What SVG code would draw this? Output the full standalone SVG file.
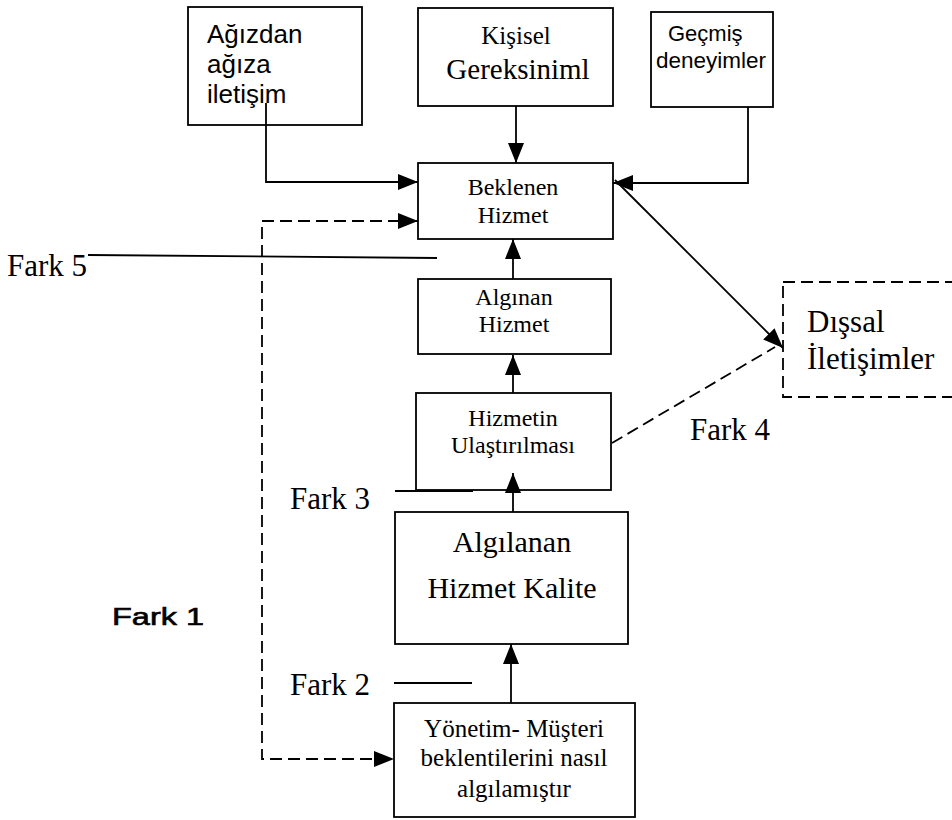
<svg xmlns="http://www.w3.org/2000/svg" width="952" height="820" viewBox="0 0 952 820">
<style>
.box{fill:#fff;stroke:#000;stroke-width:1.8}
.dbox{fill:#fff;stroke:#000;stroke-width:1.8;stroke-dasharray:12 6}
.c{fill:none;stroke:#000;stroke-width:1.8}
.d{fill:none;stroke:#000;stroke-width:1.8;stroke-dasharray:12 6}
.s{font-family:"Liberation Serif","Times New Roman",serif;fill:#000}
.a{font-family:"Liberation Sans",Arial,sans-serif;fill:#000}
.m{text-anchor:middle}
</style>
<defs>
<marker id="ah" viewBox="0 0 20 16" refX="20" refY="8" markerWidth="20" markerHeight="16" markerUnits="userSpaceOnUse" orient="auto-start-reverse">
<path d="M0,0 L20,8 L0,16 Z" fill="#000"/>
</marker>
</defs>
<rect width="952" height="820" fill="#fff"/>

<g id="agizdan">
<rect class="box" x="188" y="7" width="174" height="118"/>
<text class="a" x="207" y="43" font-size="26">Ağızdan</text>
<text class="a" x="207" y="73" font-size="26">ağıza</text>
<text class="a" x="207" y="103" font-size="26">iletişim</text>
</g>
<g id="kisisel">
<rect class="box" x="418" y="8" width="195" height="98"/>
<text class="s m" x="516" y="44" font-size="25">Kişisel</text>
<text class="s m" x="518" y="79" font-size="29">Gereksiniml</text>
</g>
<g id="gecmis">
<rect class="box" x="651" y="12" width="122" height="95"/>
<text class="a" x="668" y="41" font-size="22">Geçmiş</text>
<text class="a" x="656" y="68" font-size="22" textLength="110" lengthAdjust="spacingAndGlyphs">deneyimler</text>
</g>
<g id="beklenen">
<rect class="box" x="418" y="163" width="195" height="76"/>
<text class="s m" x="513" y="195" font-size="24">Beklenen</text>
<text class="s m" x="513" y="223" font-size="24">Hizmet</text>
</g>
<g id="alginan">
<rect class="box" x="418" y="279" width="193" height="75"/>
<text class="s m" x="514" y="305" font-size="24">Algınan</text>
<text class="s m" x="514" y="332" font-size="24">Hizmet</text>
</g>
<g id="hizmetin">
<rect class="box" x="416" y="393" width="195" height="97"/>
<text class="s m" x="513" y="426" font-size="24">Hizmetin</text>
<text class="s m" x="513" y="453" font-size="24">Ulaştırılması</text>
</g>
<g id="algilanan">
<rect class="box" x="395" y="512" width="233" height="132"/>
<text class="s m" x="512" y="552" font-size="30">Algılanan</text>
<text class="s m" x="512" y="598" font-size="30">Hizmet Kalite</text>
</g>
<g id="yonetim">
<rect class="box" x="394" y="703" width="241" height="114"/>
<text class="s m" x="514" y="737" font-size="25">Yönetim- Müşteri</text>
<text class="s m" x="514" y="766" font-size="25">beklentilerini nasıl</text>
<text class="s m" x="514" y="797" font-size="25">algılamıştır</text>
</g>
<g id="dissal">
<rect class="dbox" x="783" y="282" width="190" height="115"/>
<text class="s" x="807" y="332" font-size="31">Dışsal</text>
<text class="s" x="807" y="369" font-size="31">İletişimler</text>
</g>

<g id="connectors">
<path class="c" d="M266,103 V182 H418" marker-end="url(#ah)"/>
<path class="c" d="M516,106 V163" marker-end="url(#ah)"/>
<path class="c" d="M748,107 V183 H613" marker-end="url(#ah)"/>
<path class="c" d="M513,279 V239" marker-end="url(#ah)"/>
<path class="c" d="M513,393 V355" marker-end="url(#ah)"/>
<path class="c" d="M513,512 V473" marker-end="url(#ah)"/>
<path class="c" d="M511,703 V644" marker-end="url(#ah)"/>
<path class="c" d="M615,180 L783,348" stroke-width="2.8" marker-end="url(#ah)"/>
<path class="d" d="M612,443 L775,347"/>
<path class="d" d="M418,221 H262 V759 H394" marker-start="url(#ah)" marker-end="url(#ah)"/>
</g>

<g id="gaps">
<line class="c" x1="88" y1="255" x2="437" y2="258"/>
<line class="c" x1="395" y1="491" x2="473" y2="491" stroke-width="2.4"/>
<line class="c" x1="394" y1="683" x2="472" y2="683"/>
<text class="s" x="7" y="276" font-size="31">Fark 5</text>
<text class="s" x="690" y="440" font-size="31">Fark 4</text>
<text class="s" x="290" y="509" font-size="31">Fark 3</text>
<text class="s" x="290" y="695" font-size="31">Fark 2</text>
<text class="a" x="112" y="625" font-size="23" stroke="#000" stroke-width="0.6" textLength="92" lengthAdjust="spacingAndGlyphs">Fark 1</text>
</g>
</svg>
